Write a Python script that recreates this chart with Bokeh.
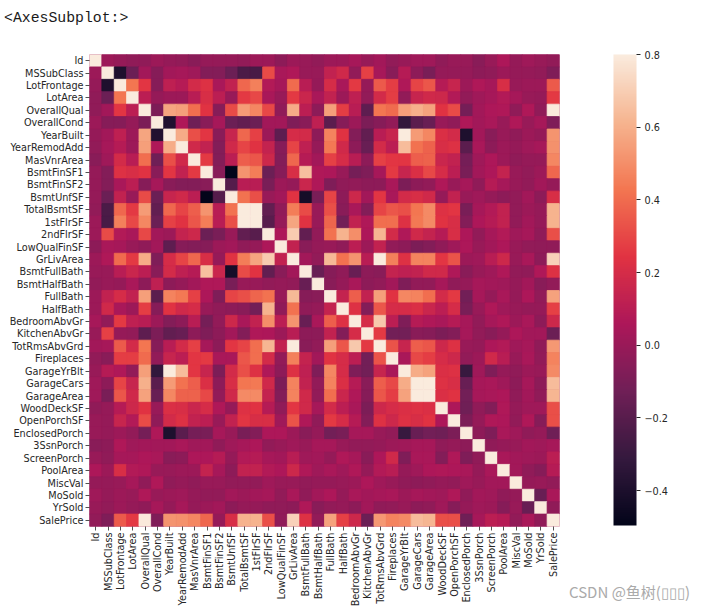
from html import escape
from bokeh.plotting import figure
from bokeh.models import FactorRange, LinearColorMapper, ColorBar, FixedTicker, Div, ColumnDataSource
from bokeh.layouts import column
from bokeh.transform import transform
from bokeh.embed import file_html
from bokeh.resources import INLINE

columns = ["Id","MSSubClass","LotFrontage","LotArea","OverallQual","OverallCond","YearBuilt","YearRemodAdd",
           "MasVnrArea","BsmtFinSF1","BsmtFinSF2","BsmtUnfSF","TotalBsmtSF","1stFlrSF","2ndFlrSF","LowQualFinSF",
           "GrLivArea","BsmtFullBath","BsmtHalfBath","FullBath","HalfBath","BedroomAbvGr","KitchenAbvGr",
           "TotRmsAbvGrd","Fireplaces","GarageYrBlt","GarageCars","GarageArea","WoodDeckSF","OpenPorchSF",
           "EnclosedPorch","3SsnPorch","ScreenPorch","PoolArea","MiscVal","MoSold","YrSold","SalePrice"]

# Upper triangle of the symmetric matrix, read row by row (values right of the diagonal)
r_Id = [0.01,-0.01,-0.03,-0.03,0.01,-0.01,-0.02,-0.05,-0.01,-0.01,-0.01,-0.02,0.01,0.01,-0.04,0.01,0.00,-0.02,0.01,0.01,0.04,0.00,0.03,-0.02,0.00,0.02,0.02,-0.03,0.00,0.00,-0.05,0.00,0.06,-0.01,0.02,0.00,-0.02]
r_MSSubClass = [-0.39,-0.14,0.03,-0.06,0.03,0.04,0.02,-0.07,-0.07,-0.14,-0.24,-0.25,0.31,0.05,0.07,0.00,0.00,0.13,0.18,-0.02,0.28,0.04,-0.05,0.09,-0.04,-0.10,-0.01,-0.01,-0.01,-0.04,-0.03,0.01,-0.01,-0.01,-0.02,-0.08]
r_LotFrontage = [0.43,0.25,-0.06,0.12,0.09,0.19,0.23,0.05,0.13,0.39,0.46,0.08,0.04,0.40,0.10,-0.01,0.20,0.05,0.26,-0.01,0.35,0.27,0.07,0.29,0.34,0.09,0.15,0.01,0.07,0.04,0.21,0.00,0.01,0.01,0.35]
r_LotArea = [0.11,-0.01,0.01,0.01,0.10,0.21,0.11,0.00,0.26,0.30,0.05,0.00,0.26,0.16,0.05,0.13,0.01,0.12,-0.02,0.19,0.27,-0.02,0.15,0.18,0.17,0.08,-0.02,0.02,0.04,0.08,0.04,0.00,-0.01,0.26]
r_OverallQual = [-0.09,0.57,0.55,0.41,0.24,-0.06,0.31,0.54,0.48,0.30,-0.03,0.59,0.11,-0.04,0.55,0.27,0.10,-0.18,0.43,0.40,0.55,0.60,0.56,0.24,0.31,-0.11,0.03,0.06,0.07,-0.03,0.07,-0.03,0.79]
r_OverallCond = [-0.38,0.07,-0.13,-0.05,0.04,-0.14,-0.17,-0.14,0.03,0.03,-0.08,-0.05,0.12,-0.19,-0.06,0.01,-0.09,-0.06,-0.02,-0.32,-0.19,-0.15,0.00,-0.03,0.07,0.03,0.05,0.00,0.07,0.00,0.04,-0.08]
r_YearBuilt = [0.59,0.32,0.25,-0.05,0.15,0.39,0.28,0.01,-0.18,0.20,0.19,-0.04,0.47,0.24,-0.07,-0.17,0.10,0.15,0.83,0.54,0.48,0.22,0.19,-0.39,0.03,-0.05,0.00,-0.03,0.01,-0.01,0.52]
r_YearRemodAdd = [0.18,0.13,-0.07,0.18,0.29,0.24,0.14,-0.06,0.29,0.12,-0.01,0.44,0.18,-0.04,-0.15,0.19,0.11,0.64,0.42,0.37,0.21,0.23,-0.19,0.05,-0.04,0.01,-0.01,0.02,0.04,0.51]
r_MasVnrArea = [0.26,-0.07,0.11,0.36,0.34,0.17,-0.07,0.39,0.09,0.03,0.28,0.20,0.10,-0.04,0.28,0.25,0.25,0.36,0.37,0.16,0.13,-0.11,0.02,0.06,0.01,-0.03,-0.01,-0.01,0.48]
r_BsmtFinSF1 = [-0.05,-0.50,0.52,0.45,-0.14,-0.06,0.21,0.65,0.07,0.06,0.00,-0.11,-0.08,0.04,0.26,0.15,0.22,0.30,0.20,0.11,-0.10,0.03,0.06,0.14,0.00,-0.02,0.01,0.39]
r_BsmtFinSF2 = [-0.21,0.10,0.10,-0.10,0.01,-0.01,0.16,0.07,-0.08,-0.03,-0.02,-0.04,-0.04,0.05,-0.09,-0.04,-0.02,0.07,0.00,0.04,-0.03,0.09,0.04,0.00,-0.02,0.03,-0.01]
r_BsmtUnfSF = [0.42,0.32,0.00,0.03,0.24,-0.42,-0.10,0.29,-0.04,0.17,0.03,0.25,0.05,0.19,0.21,0.18,-0.01,0.13,0.00,0.02,-0.01,-0.04,-0.02,0.03,-0.04,0.21]
r_TotalBsmtSF = [0.82,-0.17,-0.03,0.45,0.31,0.00,0.32,-0.05,0.05,-0.07,0.29,0.34,0.32,0.43,0.49,0.23,0.25,-0.10,0.04,0.08,0.13,-0.02,0.01,-0.01,0.61]
r_1stFlrSF = [-0.20,-0.01,0.57,0.24,0.00,0.38,-0.12,0.13,0.07,0.41,0.41,0.23,0.44,0.49,0.24,0.21,-0.07,0.06,0.09,0.13,-0.02,0.03,-0.01,0.61]
r_2ndFlrSF = [0.06,0.69,-0.17,-0.02,0.42,0.61,0.50,0.06,0.62,0.19,0.07,0.18,0.14,0.09,0.21,0.06,-0.02,0.04,0.08,0.02,0.04,-0.03,0.32]
r_LowQualFinSF = [0.13,-0.05,-0.01,0.00,-0.03,0.11,0.01,0.13,-0.02,-0.04,-0.09,-0.07,-0.03,0.02,0.06,0.00,0.03,0.06,0.00,-0.02,-0.03,-0.03]
r_GrLivArea = [0.03,-0.02,0.63,0.42,0.52,0.10,0.83,0.46,0.23,0.47,0.47,0.25,0.33,0.01,0.02,0.10,0.17,0.00,0.05,-0.04,0.71]
r_BsmtFullBath = [-0.15,-0.06,-0.03,-0.15,-0.04,-0.05,0.14,0.12,0.13,0.18,0.18,0.07,-0.05,0.00,0.02,0.07,-0.02,-0.03,0.07,0.23]
r_BsmtHalfBath = [-0.05,-0.01,0.05,-0.04,-0.02,0.03,-0.08,-0.02,-0.02,0.04,-0.03,-0.01,0.04,0.03,0.02,-0.01,0.03,-0.05,-0.02]
r_FullBath = [0.14,0.36,0.13,0.55,0.24,0.48,0.47,0.41,0.19,0.26,-0.12,0.04,-0.01,0.05,-0.01,0.06,-0.02,0.56]
r_HalfBath = [0.23,-0.07,0.34,0.20,0.20,0.22,0.16,0.11,0.20,-0.10,0.00,0.07,0.02,0.00,-0.01,-0.01,0.28]
r_BedroomAbvGr = [0.20,0.68,0.11,-0.08,0.09,0.07,0.05,0.09,0.04,-0.02,0.04,0.07,0.01,0.05,-0.04,0.17]
r_KitchenAbvGr = [0.26,-0.12,-0.12,-0.05,-0.06,-0.09,-0.07,0.04,-0.02,-0.05,-0.01,0.06,0.03,0.03,-0.14]
r_TotRmsAbvGrd = [0.33,0.15,0.36,0.34,0.17,0.23,0.00,-0.01,0.06,0.08,0.02,0.04,-0.03,0.53]
r_Fireplaces = [0.05,0.30,0.27,0.20,0.17,-0.02,0.01,0.18,0.10,0.00,0.05,-0.02,0.47]
r_GarageYrBlt = [0.59,0.56,0.22,0.23,-0.30,0.02,-0.08,-0.01,-0.03,0.01,0.00,0.49]
r_GarageCars = [0.88,0.23,0.21,-0.15,0.04,0.05,0.02,-0.04,0.04,-0.04,0.64]
r_GarageArea = [0.22,0.24,-0.12,0.04,0.05,0.06,-0.03,0.03,-0.03,0.62]
r_WoodDeckSF = [0.06,-0.13,-0.03,-0.07,0.07,-0.01,0.02,0.02,0.32]
r_OpenPorchSF = [-0.09,-0.01,0.07,0.06,-0.02,0.07,-0.06,0.32]
r_EnclosedPorch = [-0.04,-0.08,0.05,0.02,-0.03,-0.01,-0.13]
r_3SsnPorch = [-0.03,-0.01,0.00,0.03,0.02,0.04]
r_ScreenPorch = [0.05,0.03,0.02,0.01,0.11]
r_PoolArea = [0.03,-0.03,-0.06,0.09]
r_MiscVal = [-0.01,0.00,-0.02]
r_MoSold = [-0.15,0.05]
r_YrSold = [-0.03]
upper_rows = [r_Id,r_MSSubClass,r_LotFrontage,r_LotArea,r_OverallQual,r_OverallCond,r_YearBuilt,r_YearRemodAdd,
              r_MasVnrArea,r_BsmtFinSF1,r_BsmtFinSF2,r_BsmtUnfSF,r_TotalBsmtSF,r_1stFlrSF,r_2ndFlrSF,r_LowQualFinSF,
              r_GrLivArea,r_BsmtFullBath,r_BsmtHalfBath,r_FullBath,r_HalfBath,r_BedroomAbvGr,r_KitchenAbvGr,
              r_TotRmsAbvGrd,r_Fireplaces,r_GarageYrBlt,r_GarageCars,r_GarageArea,r_WoodDeckSF,r_OpenPorchSF,
              r_EnclosedPorch,r_3SsnPorch,r_ScreenPorch,r_PoolArea,r_MiscVal,r_MoSold,r_YrSold]
diagonal = 1.0
v_min, v_max = -0.4958, 0.8
cbar_ticks = [-0.4,-0.2,0.0,0.2,0.4,0.6,0.8]
cbar_labels = {-0.4:"\u22120.4",-0.2:"\u22120.2",0:"0.0",0.2:"0.2",0.4:"0.4",0.6:"0.6",0.8:"0.8"}
title_text = "<AxesSubplot:>"
watermark = "CSDN @\u9c7c\u6811(\u25af\u25af\u25af)"

# rocket colormap
stops = ["#03051a","#35193e","#701f57","#ad1759","#e13342","#f37651","#f6b48f","#faebdd"]
def rocket(n=256):
    out = []
    rgb = [tuple(int(s[i:i+2],16) for i in (1,3,5)) for s in stops]
    for k in range(n):
        t = k/(n-1)*(len(stops)-1)
        i = min(int(t), len(stops)-2)
        f = t-i
        c = [round(rgb[i][j]*(1-f)+rgb[i+1][j]*f) for j in range(3)]
        out.append("#%02x%02x%02x" % tuple(c))
    return out
palette = rocket()

n = len(columns)
xs, ys, vs = [], [], []
for i in range(n):
    for j in range(n):
        if i == j:
            v = diagonal
        elif j > i:
            v = upper_rows[i][j-i-1]
        else:
            v = upper_rows[j][i-j-1]
        xs.append(columns[j]); ys.append(columns[i]); vs.append(v)
src = ColumnDataSource(dict(x=xs, y=ys, v=vs))

mapper = LinearColorMapper(palette=palette, low=v_min, high=v_max)

TEXT = "#262626"
FS = "9.7px"
p = figure(x_range=FactorRange(factors=columns, range_padding=0),
           y_range=FactorRange(factors=columns[::-1], range_padding=0),
           frame_width=470, frame_height=472,
           min_border_left=89, min_border_top=54, min_border_bottom=83, min_border_right=149,
           output_backend="svg", toolbar_location=None,
           background_fill_color="#a01a5a", border_fill_color="white", outline_line_color=None)
p.rect(x="x", y="y", width=1, height=1, source=src,
       fill_color=transform("v", mapper), line_color=transform("v", mapper), line_width=0.8)
p.grid.visible = False
for ax in (p.xaxis, p.yaxis):
    ax.axis_line_color = None
    ax.major_tick_line_color = TEXT
    ax.major_tick_line_width = 0.8
    ax.major_tick_out = 4
    ax.major_tick_in = 0
    ax.minor_tick_line_color = None
    ax.major_label_text_font = "DejaVu Sans"
    ax.major_label_text_font_size = FS
    ax.major_label_text_color = TEXT
    ax.major_label_standoff = 2
p.xaxis.major_label_orientation = 1.5708

cb = ColorBar(color_mapper=mapper, ticker=FixedTicker(ticks=cbar_ticks), major_label_overrides=cbar_labels,
              width=23, height=471, location=(54,1), margin=0, padding=0,
              major_tick_in=0, major_tick_out=4, major_tick_line_color=TEXT, minor_tick_line_color=None,
              bar_line_color=None, major_label_text_font="DejaVu Sans", major_label_text_font_size=FS,
              major_label_text_color=TEXT, label_standoff=4, background_fill_color=None, border_line_color=None)
p.add_layout(cb, "right")

head = Div(text=escape(title_text), width=140, height=20,
           styles={"position":"absolute","left":"-1px","top":"3px","color":"#1a1a1a",
                   "font-family":"'Liberation Mono'","font-size":"14.8px","white-space":"nowrap"})
mark = Div(text=watermark, width=140, height=20,
           styles={"position":"absolute","left":"564px","top":"576px","color":"#aaaaaa",
                   "font-family":"'Noto Sans CJK SC'","font-size":"15px","white-space":"nowrap"})

open("out.html", "w").write(file_html(column(p, head, mark), INLINE))
